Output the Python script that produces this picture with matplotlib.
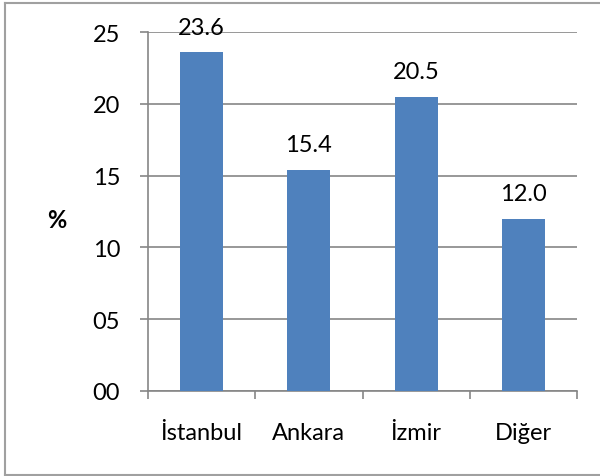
import matplotlib.pyplot as plt
from matplotlib.lines import Line2D
import numpy as np

# Data
cities = ["İstanbul", "Ankara", "İzmir", "Diğer"]
shares = [23.6, 15.4, 20.5, 12.0]
ytick_values = [0, 5, 10, 15, 20, 25]
ytick_labels = ["00", "05", "10", "15", "20", "25"]

bar_color = "#4F81BD"
grid_color = "#868686"
fs = 17

plt.rcParams["font.family"] = ["Lato", "DejaVu Sans"]

fig = plt.figure(figsize=(6.0, 4.77), dpi=100)
ax = fig.add_axes([148 / 600, 1 - 392 / 477, (577 - 148) / 600, (392 - 33) / 477])

x = np.arange(len(cities))
ax.bar(x, shares, width=0.4, color=bar_color, zorder=3)

for xi, v in zip(x, shares):
    ax.text(xi, v + 1.0, f"{v:.1f}", ha="center", va="bottom", fontsize=fs)

ax.set_xlim(-0.5, len(cities) - 0.5)
ax.set_ylim(0, 25)
ax.set_yticks(ytick_values)
ax.set_yticklabels(ytick_labels, fontsize=fs)
ax.set_xticks(x)
ax.set_xticklabels(cities, fontsize=fs)
ax.tick_params(axis="x", length=0, pad=22)
ax.tick_params(axis="y", length=6, color=grid_color, width=1.2, pad=14)

# category boundary tick marks below the axis
ax.set_xticks(np.arange(-0.5, len(cities)), minor=True)
ax.tick_params(axis="x", which="minor", length=6, color=grid_color, width=1.2)

ax.grid(axis="y", color=grid_color, linewidth=1.2, zorder=0)
for side in ["top", "right"]:
    ax.spines[side].set_visible(False)
for side in ["left", "bottom"]:
    ax.spines[side].set_color(grid_color)
    ax.spines[side].set_linewidth(1.2)

fig.text(57 / 600, 1 - 220 / 477, "%", fontsize=fs, fontweight="bold",
         ha="center", va="center")

# outer chart border (left, top, bottom)
border = dict(color="#a0a0a0", linewidth=1.5, transform=fig.transFigure)
fig.add_artist(Line2D([5 / 600, 5 / 600], [0.003, 1 - 4 / 477], **border))
fig.add_artist(Line2D([5 / 600, 1.0], [1 - 4 / 477, 1 - 4 / 477], **border))
fig.add_artist(Line2D([5 / 600, 1.0], [0.003, 0.003], **border))

fig.savefig("out.png", dpi=100)
